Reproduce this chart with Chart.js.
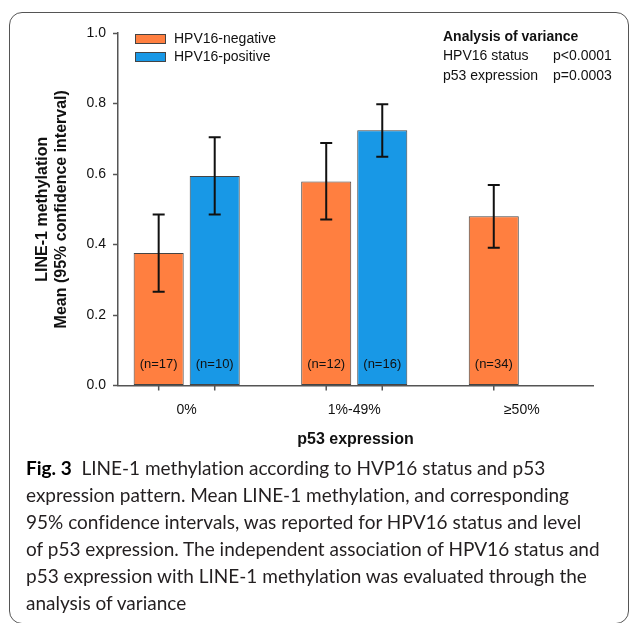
<!DOCTYPE html>
<html>
<head>
<meta charset="utf-8">
<script src="https://cdn.jsdelivr.net/npm/chart.js@4.4.0/dist/chart.umd.min.js"></script>
<style>
  html, body { margin: 0; padding: 0; background: #fff; }
  body { width: 629px; height: 623px; position: relative; overflow: hidden; }
  #frame {
    position: absolute; left: 9px; top: 12px; width: 620px; height: 612px;
    box-sizing: border-box; border: 1px solid #555; border-radius: 13px;
    pointer-events: none;
  }
  #chartBox { position: absolute; left: 0; top: 0; width: 629px; height: 455px; }
  #caption {
    position: absolute; left: 26px; top: 454px; width: 600px;
    font-family: 'Lato', 'Open Sans', sans-serif; font-size: 19px;
    font-variant-ligatures: none;
    line-height: 27px; color: #231f20; white-space: nowrap;
  }
  #caption b { color: #000; font-weight: 700; }
</style>
</head>
<body>
<div id="chartBox"><canvas id="chart" width="629" height="455"></canvas></div>
<div id="caption">
  <div><b>Fig. 3</b>&nbsp; LINE-1 methylation according to HVP16 status and p53</div>
  <div>expression pattern. Mean LINE-1 methylation, and corresponding</div>
  <div>95% confidence intervals, was reported for HPV16 status and level</div>
  <div>of p53 expression. The independent association of HPV16 status and</div>
  <div>p53 expression with LINE-1 methylation was evaluated through the</div>
  <div>analysis of variance</div>
</div>
<div id="frame"></div>
<script>
// --- Data ---
const categories = ['0%', '1%-49%', '\u226550%'];
const seriesNames = ['HPV16-negative', 'HPV16-positive'];

const negMean = [0.376, 0.579, 0.480];
const negLow  = [0.266, 0.471, 0.391];
const negHigh = [0.485, 0.688, 0.569];
const negN    = ['(n=17)', '(n=12)', '(n=34)'];

const posMean = [0.594, 0.724];
const posLow  = [0.485, 0.649];
const posHigh = [0.704, 0.798];
const posN    = ['(n=10)', '(n=16)'];

const yTicks = [0, 0.2, 0.4, 0.6, 0.8, 1.0];

const anovaTitle = 'Analysis of variance';
const anovaRows = [
  ['HPV16 status', 'p<0.0001'],
  ['p53 expression', 'p=0.0003'],
];

const FONT = "'Liberation Sans', Arial, Helvetica, sans-serif";
const ORANGE = '#FF7F40';
const BLUE = '#1898E6';
const AXIS = '#555';

// --- Extra drawing: error bars, n labels, x ticks, legend, ANOVA box ---
const extras = {
  id: 'extras',
  afterDatasetsDraw(chart) {
    const ctx = chart.ctx;
    const y = chart.scales.y;
    const area = chart.chartArea;
    ctx.save();
    chart.data.datasets.forEach((ds, di) => {
      const meta = chart.getDatasetMeta(di);
      meta.data.forEach((bar, i) => {
        // error bar
        const top = y.getPixelForValue(ds.ciHigh[i]);
        const bot = y.getPixelForValue(ds.ciLow[i]);
        ctx.strokeStyle = '#111';
        ctx.lineWidth = 2;
        ctx.beginPath();
        ctx.moveTo(bar.x, top); ctx.lineTo(bar.x, bot);
        ctx.moveTo(bar.x - 6, top); ctx.lineTo(bar.x + 6, top);
        ctx.moveTo(bar.x - 6, bot); ctx.lineTo(bar.x + 6, bot);
        ctx.stroke();
        // n label
        ctx.fillStyle = '#111';
        ctx.font = '13px ' + FONT;
        ctx.textAlign = 'center';
        ctx.textBaseline = 'middle';
        ctx.fillText(ds.nLabels[i], bar.x, y.getPixelForValue(0.06));
        // x tick mark under each bar
        ctx.strokeStyle = AXIS;
        ctx.lineWidth = 1.5;
        ctx.beginPath();
        ctx.moveTo(bar.x, area.bottom); ctx.lineTo(bar.x, area.bottom + 5);
        ctx.stroke();
      });
    });

    // legend
    ctx.font = '14px ' + FONT;
    ctx.textAlign = 'left';
    ctx.textBaseline = 'middle';
    chart.data.datasets.forEach((ds, di) => {
      const bx = area.left + 17, by = area.top + 1 + di * 18;
      ctx.fillStyle = ds.backgroundColor;
      ctx.fillRect(bx, by, 31, 10);
      ctx.strokeStyle = '#444';
      ctx.lineWidth = 1;
      ctx.strokeRect(bx + 0.5, by + 0.5, 30, 9);
      ctx.fillStyle = '#111';
      ctx.fillText(ds.label, bx + 39, by + 5.5);
    });

    // ANOVA annotation
    ctx.fillStyle = '#111';
    ctx.font = 'bold 14px ' + FONT;
    ctx.fillText(anovaTitle, 443, 37);
    ctx.font = '14px ' + FONT;
    anovaRows.forEach((r, i) => {
      ctx.fillText(r[0], 443, 56 + i * 20);
      ctx.fillText(r[1], 553, 56 + i * 20);
    });
    ctx.restore();
  }
};

const toPoints = (vals) => vals.map((v, i) => ({ x: i, y: v }));

new Chart(document.getElementById('chart'), {
  type: 'bar',
  data: {
    datasets: [
      {
        label: seriesNames[0],
        data: toPoints(negMean),
        ciLow: negLow, ciHigh: negHigh, nLabels: negN,
        backgroundColor: ORANGE,
        borderColor: '#444',
        borderWidth: 1,
        borderSkipped: false,
      },
      {
        label: seriesNames[1],
        data: toPoints(posMean),
        ciLow: posLow, ciHigh: posHigh, nLabels: posN,
        backgroundColor: BLUE,
        borderColor: '#444',
        borderWidth: 1,
        borderSkipped: false,
      }
    ]
  },
  options: {
    responsive: false,
    animation: false,
    devicePixelRatio: 1,
    categoryPercentage: 0.669,
    barPercentage: 0.893,
    layout: { padding: { left: 30, right: 36, top: 33, bottom: 0 } },
    plugins: { legend: { display: false }, tooltip: { enabled: false } },
    scales: {
      x: {
        type: 'linear',
        offset: false,
        min: -0.41,
        max: 2.425,
        afterBuildTicks: (scale) => { scale.ticks = categories.map((c, i) => ({ value: i })); },
        afterFit: (scale) => { scale.height = 69.5; },
        grid: { display: false, offset: false },
        border: { display: true, color: AXIS, width: 1.5 },
        ticks: {
          autoSkip: false, maxRotation: 0, padding: 8,
          color: '#111', font: { family: FONT, size: 14 },
          callback: (v, i) => categories[i]
        },
        title: {
          display: true, text: 'p53 expression', color: '#111',
          font: { family: FONT, size: 16, weight: 'bold' },
          padding: { top: 0, bottom: 5.5 }
        }
      },
      y: {
        min: 0, max: 1,
        afterBuildTicks: (scale) => { scale.ticks = yTicks.map(v => ({ value: v })); },
        afterFit: (scale) => { scale.width = 88; },
        grid: { drawOnChartArea: false, tickLength: 5, tickColor: AXIS, tickWidth: 1.5 },
        border: { display: true, color: AXIS, width: 1.5 },
        ticks: {
          padding: 7, color: '#111', font: { family: FONT, size: 14 },
          callback: (v) => v.toFixed(1)
        },
        title: {
          display: true, text: ['LINE-1 methylation', 'Mean (95% confidence interval)'],
          color: '#111', font: { family: FONT, size: 16, weight: 'bold' },
          padding: { top: 3, bottom: 3 }
        }
      }
    }
  },
  plugins: [extras]
});
</script>
</body>
</html>
